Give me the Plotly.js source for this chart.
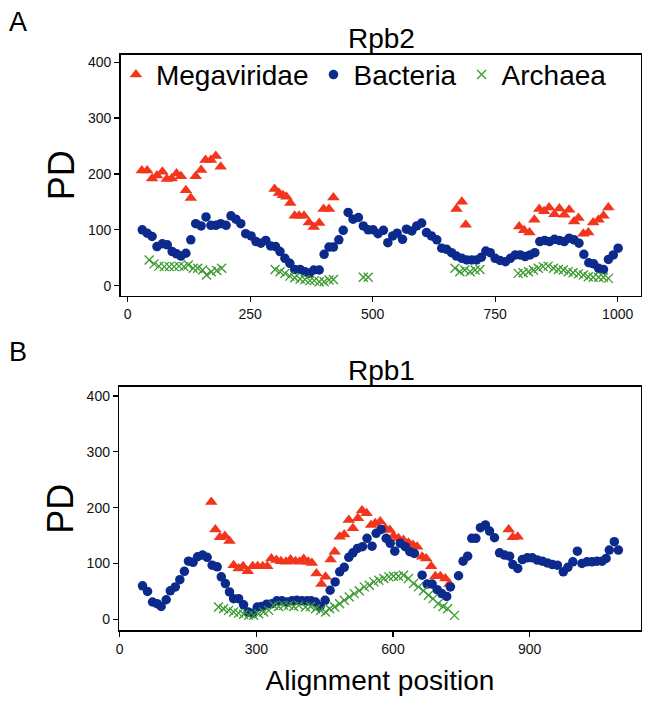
<!DOCTYPE html>
<html>
<head>
<meta charset="utf-8">
<script src="https://cdn.plot.ly/plotly-3.0.1.min.js"></script>
<style>html,body{margin:0;padding:0;background:#fff}#chart{width:655px;height:712px}</style>
</head>
<body>
<div id="chart"></div>
<script>
// ---- Rpb2 (panel A) ----
const rpb2MegaX = [29,40,50,60,71,80,90,100,109,119,129,139,150,159,170,180,190,300,309,317,324,332,341,350,360,370,380,391,400,411,420,671,682,690,799,809,820,830,840,850,860,871,881,891,901,911,920,930,940,950,961,971,981];
const rpb2MegaY = [206,206,192,197,204,191,192,201,196,171,157,196,207,225,225,232,213,173,166,162,159,148,125,125,125,113,105,112,137,137,158,137,150,109,106,99,95,118,137,133,140,128,138,127,136,115,121,93,95,113,118,125,140];

const rpb2BactX = [30,40,50,60,71,81,91,100,109,119,129,139,150,160,170,180,190,201,211,221,231,241,252,262,272,282,292,302,311,321,331,341,352,362,371,380,391,401,411,420,431,440,450,460,471,481,491,501,511,522,531,541,550,561,569,580,590,600,610,620,631,641,651,661,671,682,692,702,712,722,731,740,750,760,771,781,791,801,811,821,831,841,851,861,871,881,891,901,911,921,931,941,951,961,971,981,991,1001];
const rpb2BactY = [100,94,88,70,75,73,61,57,53,58,82,111,107,123,108,108,111,108,125,119,111,93,89,79,76,81,71,70,61,49,40,29,29,25,22,28,28,56,69,69,82,99,131,119,122,107,100,100,93,99,77,89,94,83,101,98,107,112,95,89,82,67,65,59,53,49,46,46,46,51,62,59,49,45,43,49,55,55,52,55,59,79,81,79,83,81,79,85,82,76,56,41,39,31,29,47,55,67];

const rpb2ArchX = [44,54,64,75,85,95,105,115,124,134,143,153,161,171,182,192,301,311,321,331,341,352,362,372,381,391,401,411,420,481,491,668,678,688,699,709,719,797,807,818,828,838,848,858,869,879,889,899,909,920,930,940,950,961,971,981];
const rpb2ArchY = [46,39,35,34,34,34,35,34,37,31,31,28,19,25,27,31,29,25,22,17,14,12,11,9,9,7,7,10,11,15,15,31,25,28,25,28,29,22,23,25,28,31,34,35,31,29,28,25,23,21,19,16,15,15,15,13];

// ---- Rpb1 (panel B) ----
const rpb1MegaX = [201,210,220,231,241,250,261,271,281,292,303,314,324,333,344,354,365,375,386,395,404,414,422,432,443,452,463,472,483,493,503,512,523,532,542,552,561,572,583,593,601,612,623,634,644,653,664,673,684,693,704,715,724,854,863,874];
const rpb1MegaY = [210,161,147,149,140,97,91,95,86,95,95,95,95,109,106,104,103,107,104,103,108,103,101,82,63,76,107,121,148,152,178,163,181,195,190,169,172,175,163,160,149,145,142,137,133,130,112,109,95,77,77,73,63,161,147,148];

const rpb1BactX = [50,61,72,82,91,102,111,122,132,142,151,161,171,182,192,203,214,223,232,241,250,261,272,282,291,302,312,323,334,345,356,367,378,389,400,411,420,430,440,451,462,473,483,493,503,512,522,533,543,554,563,574,585,594,604,616,627,637,647,664,675,686,697,707,718,726,744,754,764,773,782,792,803,812,823,834,845,856,863,874,884,895,906,917,928,939,950,961,974,984,995,1005,1015,1026,1037,1048,1059,1068,1075,1086,1095];
const rpb1BactY = [60,50,31,28,23,35,51,58,71,86,104,102,112,115,111,97,94,76,64,49,37,37,26,13,11,22,23,27,28,33,33,31,33,34,33,33,33,31,23,34,52,67,85,93,111,119,127,130,145,131,154,161,145,136,122,136,130,121,118,79,63,63,53,46,41,58,78,104,113,145,145,164,169,158,146,119,115,113,98,91,107,110,110,106,104,101,98,97,85,93,103,122,100,103,103,104,104,109,124,139,124];

const rpb1ArchX = [217,228,239,250,261,272,283,294,305,316,327,338,349,360,371,382,393,408,419,430,441,452,461,472,483,493,504,515,526,537,548,558,569,580,591,601,612,623,634,645,656,667,678,688,699,710,720,735];
const rpb1ArchY = [22,19,16,13,11,9,7,7,10,13,16,25,23,25,25,23,25,22,23,19,16,13,19,22,28,34,40,46,51,58,61,67,70,73,76,77,77,79,73,64,58,51,43,37,28,23,19,7];

const seriesNames = ['Megaviridae','Bacteria','Archaea'];
const yTicks = [0,100,200,300,400];
const xTicksA = [0,250,500,750,1000];
const xTicksB = [0,300,600,900];

const RED = '#f2351c', BLUE = '#0c2a8c', GREEN = '#3a9a2e';
const FONT = 'Liberation Sans, Arial, Helvetica, sans-serif';

const megaMarker = {symbol:'triangle-up', size:11, color:RED};
const bactMarker = {symbol:'circle', size:9.5, color:BLUE};
const archMarker = {symbol:'x-thin', size:9, color:GREEN, line:{color:GREEN, width:1.3}};

const traces = [
  {x:rpb2MegaX, y:rpb2MegaY, name:seriesNames[0], type:'scatter', mode:'markers', marker:megaMarker, xaxis:'x', yaxis:'y', legendgroup:'m'},
  {x:rpb2BactX, y:rpb2BactY, name:seriesNames[1], type:'scatter', mode:'markers', marker:bactMarker, xaxis:'x', yaxis:'y', legendgroup:'b'},
  {x:rpb2ArchX, y:rpb2ArchY, name:seriesNames[2], type:'scatter', mode:'markers', marker:archMarker, xaxis:'x', yaxis:'y', legendgroup:'a'},
  {x:rpb1MegaX, y:rpb1MegaY, name:seriesNames[0], type:'scatter', mode:'markers', marker:megaMarker, xaxis:'x2', yaxis:'y2', legendgroup:'m', showlegend:false},
  {x:rpb1BactX, y:rpb1BactY, name:seriesNames[1], type:'scatter', mode:'markers', marker:bactMarker, xaxis:'x2', yaxis:'y2', legendgroup:'b', showlegend:false},
  {x:rpb1ArchX, y:rpb1ArchY, name:seriesNames[2], type:'scatter', mode:'markers', marker:archMarker, xaxis:'x2', yaxis:'y2', legendgroup:'a', showlegend:false}
];

const axBase = {
  showline:true, mirror:true, linecolor:'#000', linewidth:1.5,
  ticks:'outside', ticklen:5, tickwidth:1.2, tickcolor:'#000',
  showgrid:false, zeroline:false, tickfont:{family:FONT, size:14, color:'#111'},
  automargin:false
};

const layout = {
  width:655, height:712,
  margin:{l:0, r:0, t:0, b:0},
  paper_bgcolor:'#fff', plot_bgcolor:'#fff',
  font:{family:FONT, color:'#000'},
  showlegend:true,
  legend:{orientation:'h', x:0.177, y:0.93, xanchor:'left', yanchor:'top',
          font:{family:FONT, size:28, color:'#000'}, bgcolor:'rgba(0,0,0,0)', itemwidth:30, tracegroupgap:0},
  xaxis:Object.assign({}, axBase, {domain:[0.1843,0.9782], range:[-14,1047], tickvals:xTicksA, anchor:'y'}),
  yaxis:Object.assign({}, axBase, {domain:[0.5847,0.9228], range:[-18,413], tickvals:yTicks, anchor:'x', automargin:true,
          title:{text:'PD', font:{family:FONT, size:36, color:'#000'}, standoff:2}}),
  xaxis2:Object.assign({}, axBase, {domain:[0.1821,0.9782], range:[-1,1144], tickvals:xTicksB, anchor:'y2',
          title:{text:'Alignment position', font:{family:FONT, size:28, color:'#000'}, standoff:14}}),
  yaxis2:Object.assign({}, axBase, {domain:[0.1145,0.4565], range:[-20,416], tickvals:yTicks, anchor:'x2', automargin:true,
          title:{text:'PD', font:{family:FONT, size:36, color:'#000'}, standoff:2}}),
  annotations:[
    {text:'A', xref:'paper', yref:'paper', x:0.0275, y:0.969, xanchor:'center', yanchor:'middle', showarrow:false, font:{family:FONT, size:27, color:'#000'}},
    {text:'B', xref:'paper', yref:'paper', x:0.0275, y:0.5056, xanchor:'center', yanchor:'middle', showarrow:false, font:{family:FONT, size:27, color:'#000'}},
    {text:'Rpb2', xref:'paper', yref:'paper', x:0.5817, y:0.9466, xanchor:'center', yanchor:'middle', showarrow:false, font:{family:FONT, size:28, color:'#000'}},
    {text:'Rpb1', xref:'paper', yref:'paper', x:0.5817, y:0.4803, xanchor:'center', yanchor:'middle', showarrow:false, font:{family:FONT, size:28, color:'#000'}}
  ]
};

Plotly.newPlot('chart', traces, layout, {displayModeBar:false, staticPlot:true});
</script>
</body>
</html>
